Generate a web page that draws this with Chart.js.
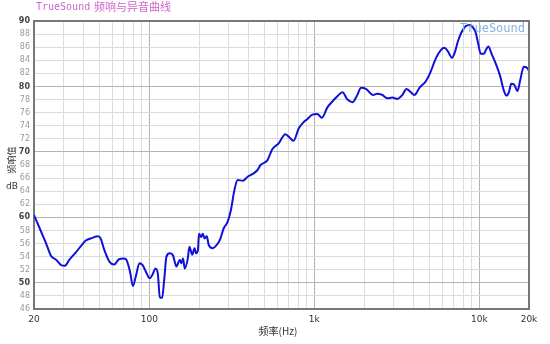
<!DOCTYPE html>
<html><head><meta charset="utf-8">
<script src="https://cdn.jsdelivr.net/npm/chart.js@4/dist/chart.umd.min.js"></script>
<style>html,body{margin:0;padding:0;background:#fff}#wrap{width:550px;height:344px;position:relative}</style>
</head><body><div id="wrap"><canvas id="c" width="550" height="344"></canvas></div>
<script>
const freqs = [20, 22.1, 23.7, 25.4, 27.3, 29.2, 30.7, 32.7, 36.0, 39.6, 41.4, 44.4, 48.8, 50.6, 53.4, 57.4, 61.2, 65.5, 70.1, 72.2, 76.4, 79.5, 83.2, 87.1, 91.1, 95.3, 100.3, 104.8, 109, 112.6, 115.8, 119.6, 123, 127, 132.6, 139, 146, 153, 156, 160, 164, 171, 175, 182, 188, 192, 197, 200, 206, 211, 216, 223, 229, 242, 260, 270, 282, 298, 312, 328, 343, 369, 394, 421, 451, 472, 519, 556, 608, 667, 714, 748, 805, 866, 906, 972, 1044, 1110, 1200, 1286, 1380, 1480, 1588, 1704, 1806, 1922, 2063, 2267, 2404, 2579, 2767, 2969, 3186, 3418, 3617, 3851, 4040, 4337, 4740, 5080, 5450, 5860, 6140, 6440, 6820, 7080, 7420, 7770, 8250, 8740, 9160, 9510, 9830, 10200, 10660, 10970, 11330, 11900, 12660, 13400, 14030, 14600, 15100, 15620, 16230, 17050, 17700, 18600, 19700, 20000];
const spl = [60.35, 57.8, 56.0, 54.1, 53.5, 52.7, 52.6, 53.5, 54.7, 56.0, 56.5, 56.8, 57.1, 56.8, 55.0, 53.2, 52.8, 53.6, 53.7, 53.6, 51.7, 49.5, 51.2, 53.0, 52.7, 51.7, 50.7, 51.3, 52.2, 51.4, 47.8, 47.7, 50.4, 54.0, 54.5, 54.2, 52.5, 53.5, 53.0, 53.7, 52.2, 53.7, 55.5, 54.3, 55.3, 54.5, 55.0, 57.5, 57.0, 57.5, 56.8, 57.1, 55.8, 55.3, 56.0, 56.8, 58.3, 59.3, 61.1, 64.2, 65.7, 65.6, 66.2, 66.6, 67.2, 68.0, 68.7, 70.4, 71.3, 72.7, 72.1, 71.7, 73.6, 74.6, 75.0, 75.7, 75.8, 75.2, 76.8, 77.7, 78.5, 79.1, 78.0, 77.6, 78.5, 79.8, 79.6, 78.7, 78.9, 78.7, 78.2, 78.3, 78.1, 78.7, 79.6, 79.1, 78.7, 79.8, 80.8, 82.3, 84.3, 85.6, 85.9, 85.4, 84.4, 85.1, 86.9, 88.2, 89.2, 89.4, 89.0, 88.2, 86.6, 85.0, 85.0, 85.6, 86.1, 84.9, 83.3, 81.5, 79.5, 78.6, 79.1, 80.4, 80.3, 79.3, 81.0, 83.0, 82.7, 82.3];
const xTickValues = [20, 30, 40, 50, 60, 70, 80, 90, 100, 200, 300, 400, 500, 600, 700, 800, 900, 1000, 2000, 3000, 4000, 5000, 6000, 7000, 8000, 9000, 10000, 20000];
const xTickLabels = {20: '20', 100: '100', 1000: '1k', 10000: '10k', 20000: '20k'};
const xMajor = [100, 1000, 10000];
const yMin = 46, yMax = 90, yStep = 2;
const watermarkText = 'TrueSound';
const xTitle = '频率(Hz)';
const yTitle = '频响值';
const yUnit = 'dB';

const points = freqs.map((f, i) => ({x: f, y: spl[i]}));
const isMajorY = c => !!(c && c.tick && c.tick.value % 10 === 0);

const decor = {
  id: 'decor',
  afterDraw(chart) {
    const ctx = chart.ctx, a = chart.chartArea;
    ctx.save();
    ctx.strokeStyle = '#777';
    ctx.lineWidth = 2;
    ctx.beginPath();
    ctx.moveTo(a.left, a.top); ctx.lineTo(a.right, a.top); ctx.lineTo(a.right, a.bottom);
    ctx.stroke();
    ctx.textBaseline = 'middle';
    ctx.textAlign = 'left';
    ctx.fillStyle = '#cc66cc';
    ctx.font = '10px "DejaVu Sans Mono"';
    ctx.fillText('TrueSound', 36, 7);
    ctx.font = '11px "Noto Sans CJK SC"';
    ctx.fillText('频响与异音曲线', 94, 7);
    ctx.fillStyle = '#80b4e4';
    ctx.font = '12px "DejaVu Sans Mono"';
    ctx.textAlign = 'right';
    ctx.fillText(watermarkText, 525, 29);
    ctx.fillStyle = '#333';
    ctx.textAlign = 'center';
    ctx.font = '10px "Noto Sans CJK SC"';
    ctx.fillText(xTitle, 278, 331);
    ctx.save();
    ctx.translate(12, 160);
    ctx.rotate(-Math.PI / 2);
    ctx.font = '9px "Noto Sans CJK SC"';
    ctx.fillText(yTitle, 0, 0);
    ctx.restore();
    ctx.font = '9px "DejaVu Sans"';
    ctx.fillText(yUnit, 12, 187);
    ctx.restore();
  }
};

new Chart(document.getElementById('c'), {
  type: 'line',
  data: {
    datasets: [{
      data: points,
      borderColor: '#1010dd',
      borderWidth: 2,
      pointRadius: 0,
      cubicInterpolationMode: 'monotone',
      fill: false
    }]
  },
  options: {
    responsive: false,
    animation: false,
    devicePixelRatio: 1,
    layout: {padding: {top: 21, right: 21, left: 0, bottom: 0}},
    plugins: {legend: {display: false}, tooltip: {enabled: false}, title: {display: false}},
    scales: {
      x: {
        type: 'logarithmic',
        min: 20, max: 20000,
        afterBuildTicks: s => { s.ticks = xTickValues.map(v => ({value: v})); },
        afterFit: s => { s.height = 35; },
        ticks: {
          autoSkip: false, maxRotation: 0, minRotation: 0, padding: 5,
          callback: v => xTickLabels[v] || '',
          color: '#333',
          font: {size: 9, family: '"DejaVu Sans"'}
        },
        grid: {
          drawTicks: false,
          color: c => (c && c.tick && xMajor.includes(c.tick.value)) ? '#b4b4b4' : '#dcdcdc',
          lineWidth: 1
        },
        border: {color: '#777', width: 2}
      },
      y: {
        type: 'linear',
        min: yMin, max: yMax,
        afterFit: s => { s.width = 34; },
        ticks: {
          stepSize: yStep, padding: 4, autoSkip: false,
          color: c => isMajorY(c) ? '#444' : '#999',
          font: c => ({size: 8, family: '"DejaVu Sans"', weight: isMajorY(c) ? 'bold' : 'normal'})
        },
        grid: {
          drawTicks: false,
          color: c => isMajorY(c) ? '#b4b4b4' : '#dcdcdc',
          lineWidth: 1
        },
        border: {color: '#777', width: 2}
      }
    }
  },
  plugins: [decor]
});
</script></body></html>
